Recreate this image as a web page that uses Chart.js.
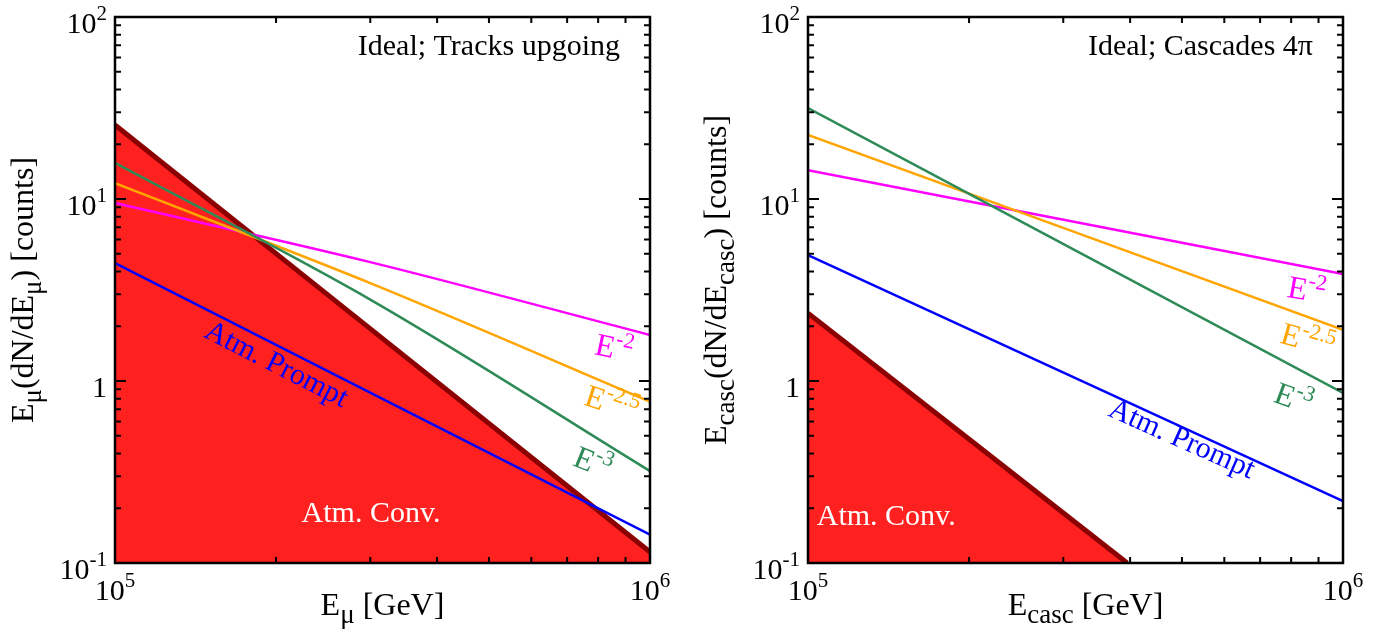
<!DOCTYPE html>
<html>
<head>
<meta charset="utf-8">
<script src="https://cdn.jsdelivr.net/npm/chart.js@4.4.1/dist/chart.umd.min.js"></script>
<style>
	body { margin: 0; background: #fff; }
	canvas { position: absolute; top: 0; }
</style>
</head>
<body>
<canvas id="tracks-chart" width="696" height="643" style="left:0"></canvas>
<canvas id="cascades-chart" width="696" height="643" style="left:696px"></canvas>
<script>
var energy3 = [1e5, 3e5, 1e6];
var energy2 = [1e5, 1e6];

// left panel: tracks upgoing
var tracksE2 = [9.5, 4.5, 1.79];
var tracksE25 = [12.2, 3.45, 0.77];
var tracksE3 = [15.8, 2.8, 0.32];
var tracksPrompt = [4.45, 0.143];
var tracksConv = [25.5, 0.115];

// right panel: cascades 4pi
var cascE2 = [14.4, 3.87];
var cascE25 = [22.5, 1.91];
var cascE3 = [31.6, 0.86];
var cascPrompt = [4.92, 0.219];
var cascConvEnergy = [1e5, 3.95e5];
var cascConv = [2.36, 0.1];

var xTicks = [1e5, 1e6];
var yTicks = [0.1, 1, 10, 100];

var SERIF = '"Liberation Serif", "DejaVu Serif", serif';
var MAGENTA = "#ff00ff", ORANGE = "#ffa500", GREEN = "#2e8b57", BLUE = "#0000ff";
var DARKRED = "#8b0000", RED = "#ff2020";

function n(t) { return [t, 30, 0]; }
function big(t) { return [t, 32, 0]; }
function sup(t) { return [t, 22, -13]; }
function sub(t) { return [t, 27, 8]; }

function richWidth(ctx, parts) {
	var w = 0;
	parts.forEach(function (p) {
		ctx.font = p[1] + "px " + SERIF;
		w += ctx.measureText(p[0]).width;
	});
	return w;
}

function drawRich(ctx, parts, x, y, align, angle, color) {
	ctx.save();
	ctx.translate(x, y);
	ctx.rotate((angle || 0) * Math.PI / 180);
	ctx.fillStyle = color || "#000";
	ctx.textBaseline = "alphabetic";
	ctx.textAlign = "left";
	var w = richWidth(ctx, parts);
	var cx = align === "center" ? -w / 2 : (align === "right" ? -w : 0);
	parts.forEach(function (p) {
		ctx.font = p[1] + "px " + SERIF;
		ctx.fillText(p[0], cx, p[2]);
		cx += ctx.measureText(p[0]).width;
	});
	ctx.restore();
}

function powLabel(v) {
	if (v === 1) return [["1", 30, 0]];
	var e = Math.round(Math.log10(v));
	return [["10", 30, 0], [String(e), 21, -13]];
}

function lineSet(xs, ys, color, width, fill) {
	return {
		data: xs.map(function (x, i) { return { x: x, y: ys[i] }; }),
		borderColor: color,
		backgroundColor: RED,
		borderWidth: width,
		pointRadius: 0,
		cubicInterpolationMode: "monotone",
		fill: fill ? "start" : false,
		clip: 0,
	};
}

// draws frame, inward ticks, tick labels, titles and curve labels
var framePlugin = {
	id: "frame",
	afterDraw: function (chart) {
		var ctx = chart.ctx;
		var a = chart.chartArea;
		var xs = chart.scales.x, ys = chart.scales.y;
		var o = chart.options.plugins.frame;

		ctx.save();
		ctx.strokeStyle = "#000";
		ctx.lineWidth = 2;
		ctx.beginPath();
		for (var m = 2; m <= 9; m++) {
			var px = xs.getPixelForValue(m * 1e5);
			ctx.moveTo(px, a.bottom); ctx.lineTo(px, a.bottom - 6);
			ctx.moveTo(px, a.top); ctx.lineTo(px, a.top + 6);
		}
		for (var d = -1; d <= 1; d++) {
			for (var k = 1; k <= 9; k++) {
				var v = k * Math.pow(10, d);
				var py = ys.getPixelForValue(v);
				var len = k === 1 ? 11 : 6;
				ctx.moveTo(a.left, py); ctx.lineTo(a.left + len, py);
				ctx.moveTo(a.right, py); ctx.lineTo(a.right - len, py);
			}
		}
		ctx.stroke();
		ctx.lineWidth = 2.5;
		ctx.strokeRect(a.left, a.top, a.right - a.left, a.bottom - a.top);
		ctx.restore();

		yTicks.forEach(function (v) {
			drawRich(ctx, powLabel(v), a.left - 8, ys.getPixelForValue(v) + 16, "right");
		});
		xTicks.forEach(function (v) {
			drawRich(ctx, powLabel(v), xs.getPixelForValue(v), a.bottom + 37, "center");
		});

		drawRich(ctx, o.title, a.right - 30, a.top + 38, "right", 0);
		drawRich(ctx, o.xTitle, (a.left + a.right) / 2 + o.xShift, 615, "center", 0);
		drawRich(ctx, o.yTitle, a.left - 82, (a.top + a.bottom) / 2 + o.yShift, "center", -90);

		o.labels.forEach(function (l) {
			drawRich(ctx, l.parts, xs.getPixelForValue(l.e), ys.getPixelForValue(l.v) + 10,
				"center", l.angle, l.color);
		});
	},
};

function makeChart(id, padding, datasets, frame) {
	var ctx = document.getElementById(id).getContext("2d");
	return new Chart(ctx, {
		type: "line",
		data: { datasets: datasets },
		options: {
			responsive: false,
			animation: false,
			devicePixelRatio: 1,
			layout: { padding: padding },
			scales: {
				x: { type: "logarithmic", min: 1e5, max: 1e6, display: false },
				y: { type: "logarithmic", min: 0.1, max: 100, display: false },
			},
			plugins: {
				legend: { display: false },
				tooltip: { enabled: false },
				frame: frame,
			},
		},
		plugins: [framePlugin],
	});
}

makeChart("tracks-chart", { left: 115, right: 46, top: 17, bottom: 80 }, [
	lineSet(energy3, tracksE3, GREEN, 2.5),
	lineSet(energy3, tracksE25, ORANGE, 2.5),
	lineSet(energy3, tracksE2, MAGENTA, 2.5),
	lineSet(energy2, tracksPrompt, BLUE, 2.5),
	lineSet(energy2, tracksConv, DARKRED, 5, true),
], {
	title: [n("Ideal; Tracks upgoing")],
	xTitle: [big("E"), sub("\u03bc"), big(" [GeV]")],
	yTitle: [big("E"), sub("\u03bc"), big("(dN/dE"), sub("\u03bc"), big(") [counts]")],
	xShift: 0,
	yShift: 0,
	labels: [
		{ parts: [big("E"), sup("-2")], e: 8.49e5, v: 1.52, angle: 12, color: MAGENTA },
		{ parts: [big("E"), sup("-2.5")], e: 8.37e5, v: 0.757, angle: 18, color: ORANGE },
		{ parts: [big("E"), sup("-3")], e: 7.69e5, v: 0.359, angle: 22, color: GREEN },
		{ parts: [n("Atm. Prompt")], e: 1.97e5, v: 1.27, angle: 27, color: BLUE },
		{ parts: [n("Atm. Conv.")], e: 3.01e5, v: 0.19, angle: 0, color: "#fff" },
	],
});

makeChart("cascades-chart", { left: 112, right: 49, top: 17, bottom: 80 }, [
	lineSet(energy2, cascE3, GREEN, 2.5),
	lineSet(energy2, cascE25, ORANGE, 2.5),
	lineSet(energy2, cascE2, MAGENTA, 2.5),
	lineSet(energy2, cascPrompt, BLUE, 2.5),
	lineSet(cascConvEnergy, cascConv, DARKRED, 5, true),
], {
	title: [n("Ideal; Cascades 4\u03c0")],
	xTitle: [big("E"), sub("casc"), big(" [GeV]")],
	yTitle: [big("E"), sub("casc"), big("(dN/dE"), sub("casc"), big(") [counts]")],
	xShift: 10,
	yShift: -10,
	labels: [
		{ parts: [big("E"), sup("-2")], e: 8.49e5, v: 3.16, angle: 10, color: MAGENTA },
		{ parts: [big("E"), sup("-2.5")], e: 8.49e5, v: 1.68, angle: 16, color: ORANGE },
		{ parts: [big("E"), sup("-3")], e: 7.96e5, v: 0.807, angle: 20, color: GREEN },
		{ parts: [n("Atm. Prompt")], e: 4.92e5, v: 0.492, angle: 24, color: BLUE },
		{ parts: [n("Atm. Conv.")], e: 1.4e5, v: 0.184, angle: 0, color: "#fff" },
	],
});
</script>
</body>
</html>
